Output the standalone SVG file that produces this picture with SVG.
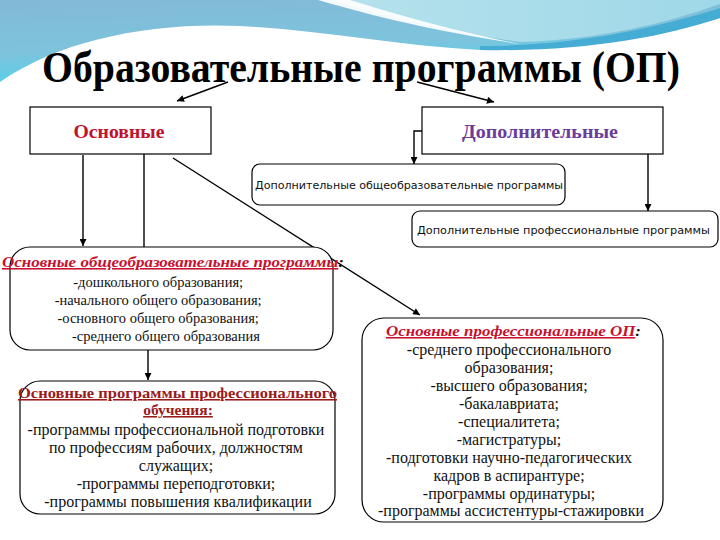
<svg xmlns="http://www.w3.org/2000/svg" width="720" height="540" viewBox="0 0 720 540">
<defs>
  <linearGradient id="bgBlue" x1="0" y1="0" x2="0.3" y2="1">
    <stop offset="0" stop-color="#82b9d6"/>
    <stop offset="0.6" stop-color="#7ec3dc"/>
    <stop offset="1" stop-color="#52d2ea"/>
  </linearGradient>
  <linearGradient id="lightCyan" x1="0" y1="0" x2="1" y2="0">
    <stop offset="0" stop-color="#b6e2ec"/>
    <stop offset="1" stop-color="#9fd8e8"/>
  </linearGradient>
  <marker id="arr" viewBox="0 0 10 10" refX="10" refY="5" markerWidth="8" markerHeight="7" markerUnits="userSpaceOnUse" orient="auto">
    <path d="M0,0 L10,5 L0,10 Z" fill="#000"/>
  </marker>
  <style>
    .box { fill: #ffffff; stroke: #000; stroke-width: 1.2; }
    .conn { fill: none; stroke: #000; stroke-width: 1.4; }
    .body { font-family: "Liberation Serif", "Times New Roman", serif; fill: #111; text-anchor: middle; }
    .sans { font-family: "DejaVu Sans", "Liberation Sans", sans-serif; font-size: 11px; fill: #111; }
    .hdr { font-family: "Liberation Serif", "Times New Roman", serif; font-weight: bold; font-size: 19px; text-anchor: middle; }
    .red { fill: #c8102e; }
    .dred { fill: #9b1b1b; }
  </style>
</defs>

<!-- background -->
<rect x="0" y="0" width="720" height="540" fill="#ffffff"/>
<path d="M0,0 H720 V18 C 660,36 580,50 480,50 C 400,46 320,30 240,26 C 150,22 60,40 0,82 Z" fill="url(#bgBlue)"/>
<path d="M330,0 C 400,20 460,34 520,42 C 600,40 670,22 720,4 V0 Z" fill="url(#lightCyan)"/>
<path d="M480,46 C 570,46 650,30 720,8 V18 C 660,38 580,52 480,50 Z" fill="#45acd4"/>
<path d="M318,0 C 380,18 440,32 520,44 C 450,30 395,14 350,0 Z" fill="#ffffff" opacity="0.9"/>

<!-- title -->
<text x="42" y="82" font-family="'Liberation Serif', 'Times New Roman', serif" font-weight="bold" font-size="45" textLength="638" lengthAdjust="spacingAndGlyphs" fill="#000">Образовательные программы (ОП)</text>

<!-- connectors -->
<g id="connectors">
  <line class="conn" x1="228" y1="82" x2="177" y2="101" marker-end="url(#arr)"/>
  <line class="conn" x1="417" y1="82" x2="494" y2="102" marker-end="url(#arr)"/>
  <line class="conn" x1="83" y1="155" x2="83" y2="246" marker-end="url(#arr)"/>
  <line class="conn" x1="144" y1="154" x2="144" y2="247"/>
  <line class="conn" x1="148" y1="350" x2="148" y2="380" marker-end="url(#arr)"/>
  <line class="conn" x1="173" y1="158" x2="420" y2="315" marker-end="url(#arr)"/>
  <path class="conn" d="M422,131 H414 V164" marker-end="url(#arr)"/>
  <line class="conn" x1="648" y1="154" x2="648" y2="211" marker-end="url(#arr)"/>
</g>

<!-- nodes -->
<g id="node-osnovnye">
  <rect class="box" x="30" y="107" width="181" height="47"/>
  <text class="hdr" x="119" y="138" fill="#c0122c" textLength="91" lengthAdjust="spacingAndGlyphs">Основные</text>
</g>

<g id="node-dopolnitelnye">
  <rect class="box" x="422" y="107" width="241" height="47"/>
  <text class="hdr" x="540" y="138" fill="#6a3d9a" textLength="156" lengthAdjust="spacingAndGlyphs">Дополнительные</text>
</g>

<g id="node-dop-obshcheobr">
  <rect class="box" x="252" y="164" width="313" height="41" rx="8"/>
  <text class="sans" x="255" y="189" textLength="308" lengthAdjust="spacingAndGlyphs">Дополнительные общеобразовательные программы</text>
</g>

<g id="node-dop-prof">
  <rect class="box" x="412" y="211" width="306" height="36" rx="8"/>
  <text class="sans" x="417" y="234" textLength="293" lengthAdjust="spacingAndGlyphs">Дополнительные профессиональные программы</text>
</g>

<g id="node-osn-obshcheobr">
  <rect class="box" x="10" y="247" width="323" height="103" rx="20"/>
  <text x="2" y="267" font-family="'Liberation Serif', 'Times New Roman', serif" font-style="italic" font-weight="bold" font-size="15.5" textLength="342" lengthAdjust="spacingAndGlyphs"><tspan class="red" text-decoration="underline">Основные общеобразовательные программы</tspan><tspan fill="#111">:</tspan></text>
  <text class="body" font-size="14.5">
    <tspan x="160" y="287">-дошкольного образования;</tspan>
    <tspan x="160" y="305">-начального общего образования;</tspan>
    <tspan x="160" y="323">-основного общего образования;</tspan>
    <tspan x="166" y="341">-среднего общего образования</tspan>
  </text>
</g>

<g id="node-osn-prof-obuch">
  <rect class="box" x="20" y="381" width="315" height="133" rx="20"/>
  <text x="18" y="398" font-family="'Liberation Serif', 'Times New Roman', serif" font-weight="bold" font-size="15.5" class="dred" text-decoration="underline" textLength="319" lengthAdjust="spacingAndGlyphs">Основные программы профессионального</text>
  <text x="178" y="415" font-family="'Liberation Serif', 'Times New Roman', serif" font-weight="bold" font-size="15.5" class="dred" text-decoration="underline" text-anchor="middle">обучения:</text>
  <text class="body" font-size="16">
    <tspan x="178" y="435">-программы профессиональной подготовки</tspan>
    <tspan x="178" y="453">по профессиям рабочих, должностям</tspan>
    <tspan x="178" y="471">служащих;</tspan>
    <tspan x="178" y="489">-программы переподготовки;</tspan>
    <tspan x="178" y="507">-программы повышения квалификации</tspan>
  </text>
</g>

<g id="node-osn-prof-op">
  <rect class="box" x="362" y="318" width="301" height="204" rx="22"/>
  <text x="386" y="336" font-family="'Liberation Serif', 'Times New Roman', serif" font-style="italic" font-weight="bold" font-size="15.5" textLength="255" lengthAdjust="spacingAndGlyphs"><tspan class="red" text-decoration="underline">Основные профессиональные ОП</tspan><tspan fill="#111">:</tspan></text>
  <text class="body" font-size="16">
    <tspan x="511" y="355">-среднего профессионального</tspan>
    <tspan x="511" y="373">образования;</tspan>
    <tspan x="511" y="391">-высшего образования;</tspan>
    <tspan x="511" y="409">-бакалавриата;</tspan>
    <tspan x="511" y="427">-специалитета;</tspan>
    <tspan x="511" y="445">-магистратуры;</tspan>
    <tspan x="511" y="463">-подготовки научно-педагогических</tspan>
    <tspan x="511" y="481">кадров в аспирантуре;</tspan>
    <tspan x="511" y="499">-программы ординатуры;</tspan>
    <tspan x="511" y="516">-программы ассистентуры-стажировки</tspan>
  </text>
</g>
</svg>
